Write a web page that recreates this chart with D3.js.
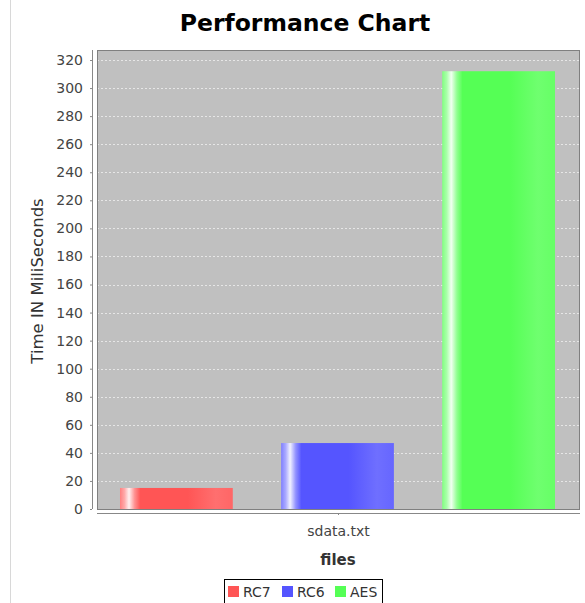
<!DOCTYPE html>
<html><head><meta charset="utf-8">
<script src="https://cdn.jsdelivr.net/npm/d3@7"></script>
<style>body{margin:0;background:#fff;}svg{display:block;font-family:"DejaVu Sans",sans-serif;}</style>
</head><body>
<svg id="c" width="585" height="603"></svg>
<script>
const categories = ["sdata.txt"];
const seriesNames = ["RC7", "RC6", "AES"];
const seriesValues = [15, 47, 312];
const seriesColors = ["#ff5555", "#5555ff", "#55ff55"];
const yTicks = d3.range(0, 321, 20);

const svg = d3.select("#c");
const M = {left: 97, right: 580, top: 50, bottom: 509};

// panel border line on left
svg.append("line").attr("x1", 10.5).attr("x2", 10.5).attr("y1", 0).attr("y2", 603).attr("stroke", "#d8d8d8");

const y = d3.scaleLinear().domain([0, 320]).range([M.bottom, 60]);
const x0 = d3.scaleBand().domain(categories).range([M.left, M.right]).paddingInner(0).paddingOuter(0.0);
const x1 = d3.scaleBand().domain(seriesNames).range([120 - M.left, 555 - M.left]).paddingInner(0.3).paddingOuter(0);

// gradients
const defs = svg.append("defs");
function lighten(c, k){ return d3.interpolateRgb(c, "#ffffff")(k); }
seriesNames.forEach((s, i) => {
  const c = seriesColors[i];
  const g = defs.append("linearGradient").attr("id", "g" + i).attr("x1", 0).attr("x2", 1).attr("y1", 0).attr("y2", 0);
  [[0, lighten(c, 0.25)], [0.04, lighten(c, 0.5)], [0.08, lighten(c, 0.92)], [0.13, lighten(c, 0.35)], [0.18, c], [0.6, c], [0.85, lighten(c, 0.15)], [1, lighten(c, 0.1)]]
    .forEach(([o, col]) => g.append("stop").attr("offset", o).attr("stop-color", col));
});

// plot background
svg.append("rect").attr("x", M.left).attr("y", M.top).attr("width", M.right - M.left).attr("height", M.bottom - M.top).attr("fill", "#c0c0c0");

// gridlines
svg.append("g").selectAll("line").data(yTicks.filter(d => d > 0)).join("line")
  .attr("x1", M.left).attr("x2", M.right).attr("y1", d => Math.round(y(d)) + 0.5).attr("y2", d => Math.round(y(d)) + 0.5)
  .attr("stroke", "#ffffff").attr("stroke-opacity", 0.6).attr("stroke-dasharray", "2,2").attr("stroke-width", 1);

// plot outline
svg.append("rect").attr("x", M.left + 0.5).attr("y", M.top + 0.5).attr("width", M.right - M.left - 1).attr("height", M.bottom - M.top)
  .attr("fill", "none").attr("stroke", "#808080");

// bars
svg.append("g").selectAll("rect").data(seriesNames).join("rect")
  .attr("x", d => x0(categories[0]) + x1(d))
  .attr("width", x1.bandwidth())
  .attr("y", (d, i) => y(seriesValues[i]))
  .attr("height", (d, i) => M.bottom - y(seriesValues[i]))
  .attr("fill", (d, i) => `url(#g${i})`);

// y axis
const yAxis = svg.append("g").attr("transform", `translate(${M.left - 5},0)`)
  .call(d3.axisLeft(y).tickValues(yTicks).tickSize(2).tickPadding(7));
yAxis.select(".domain").attr("stroke", "#888").attr("d", `M0.5,${M.top}V${M.bottom}`);
yAxis.selectAll(".tick line").attr("stroke", "#888");
yAxis.selectAll("text").attr("fill", "#444").style("font-size", "14px").style("font-family", "DejaVu Sans");

// x axis
const xAxis = svg.append("g").attr("transform", `translate(0,${M.bottom + 4})`)
  .call(d3.axisBottom(x0).tickSize(2).tickPadding(11));
xAxis.select(".domain").attr("stroke", "#888").attr("d", `M${M.left},0.5H${M.right}`);
xAxis.selectAll(".tick line").attr("stroke", "#888");
xAxis.selectAll("text").attr("fill", "#444").style("font-size", "14px").style("font-family", "DejaVu Sans");

// title
svg.append("text").attr("x", 305).attr("y", 31).attr("text-anchor", "middle")
  .style("font-size", "23.5px").style("font-weight", "bold").attr("fill", "#000").text("Performance Chart");

// axis titles
svg.append("text").attr("x", 338).attr("y", 565).attr("text-anchor", "middle")
  .style("font-size", "15px").style("font-weight", "bold").attr("fill", "#333").text("files");
svg.append("text").attr("transform", `translate(43,281) rotate(-90)`).attr("text-anchor", "middle")
  .style("font-size", "16.5px").attr("fill", "#333").text("Time IN MiliSeconds");

// legend
const lg = svg.append("g");
lg.append("rect").attr("x", 224.5).attr("y", 579.5).attr("width", 158).attr("height", 30).attr("fill", "#fff").attr("stroke", "#000");
const lx = [228, 282, 335];
seriesNames.forEach((s, i) => {
  lg.append("rect").attr("x", lx[i]).attr("y", 586).attr("width", 11).attr("height", 11).attr("fill", seriesColors[i]);
  lg.append("text").attr("x", lx[i] + 15).attr("y", 597).style("font-size", "14px").attr("fill", "#333").text(s);
});
</script>
</body></html>
